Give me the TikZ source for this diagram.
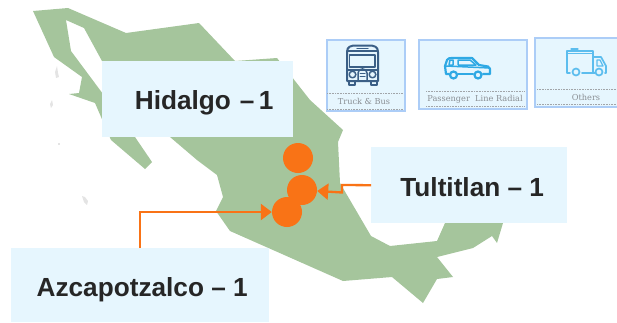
\documentclass[tikz,border=0pt]{standalone}
\usepackage{fontspec}
\setmainfont{Liberation Sans}
\newfontfamily\slabfont{DejaVu Serif}
\usetikzlibrary{arrows.meta}
\definecolor{mapgreen}{HTML}{A5C59C}
\definecolor{boxblue}{HTML}{E6F6FE}
\definecolor{dotorange}{HTML}{F97316}
\definecolor{labeltext}{HTML}{262626}
\definecolor{panelfill}{HTML}{E6F6FE}
\definecolor{panelline}{HTML}{ACCDF7}
\definecolor{busblue}{HTML}{3B5F86}
\definecolor{carblue}{HTML}{2FA9E4}
\definecolor{trackblue}{HTML}{5CBDEE}
\definecolor{captiongrey}{HTML}{8A8F94}
\definecolor{islandgrey}{HTML}{E4E4E4}
\tikzset{
  infobox/.style={fill=boxblue,inner sep=0pt,text=labeltext,font=\fontsize{26.2}{28}\selectfont\bfseries,anchor=north west},
  site/.style={circle,fill=dotorange,minimum size=30pt,inner sep=0pt},
  link/.style={draw=dotorange,line width=2.3pt,-{Triangle[length=11pt,width=16pt,fill=dotorange]}},
  panelbox/.style={fill=panelfill,draw=panelline,line width=1.6pt},
  caption/.style={font=\slabfont\fontsize{8.2}{9}\selectfont,text=captiongrey,inner sep=0pt},
  rule/.style={draw=captiongrey!80,line width=0.6pt,densely dotted},
  icon/.style={line width=2pt,line join=round,line cap=round},
}
\begin{document}
\begin{tikzpicture}[x=1pt,y=-1pt]
\useasboundingbox (0,0) rectangle (617,322);
% map
\fill[mapgreen] (33,11)--(68,8)--(126,33)--(199,23)--(235,61)--(277,58)--(310,100)--(343,130)--(338,142)--(340,183)--(371,236)--(390,246)--(437,241)--(445,223)--(503,223)--(497,243)--(492,236)--(473,248)--(437,257)--(453,277)--(437,279)--(423,303)--(392,277)--(343,281)--(230,231)--(216,211)--(223,197)--(217,175)--(197,160)--(170,137)--(102,61)--(84,28)--(66,20)--(71,51)--(135,137)--(152,162)--(145,169)--(111,140)--(95,103)--(69,94)--(79,93)--(82,77)--(54,57)--cycle;
% islands
\fill[islandgrey] (55,72)--(57,66)--(58,73)--(59,77)--(56,78)--cycle;
\fill[islandgrey] (50,104)--(52,100)--(53,105)--(51,108)--cycle;
\fill[islandgrey] (58,143)--(60,143)--(60,145)--(58,145)--cycle;
\fill[islandgrey] (82,196)--(85,197)--(88,201)--(87,205)--(84,202)--cycle;
% sites
\node[site] (hidalgo) at (298,158) {};
\node[site] (tultitlan) at (302,190) {};
\node[site] (azcapotzalco) at (287,212) {};
% label boxes
\node[infobox,minimum width=191pt,minimum height=76pt] (hbox) at (102,61) {\hspace*{13pt}\raisebox{-10pt}[0pt][0pt]{Hidalgo\hspace{9pt}–\,1}};
\node[infobox,minimum width=196pt,minimum height=76pt] (tbox) at (371,147) {\hspace*{6pt}\raisebox{-11pt}[0pt][0pt]{Tultitlan – 1}};
\node[infobox,minimum width=258pt,minimum height=74pt] (abox) at (11,248) {\hspace*{4pt}\raisebox{-11pt}[0pt][0pt]{Azcapotzalco – 1}};
% connectors
\coordinate (tbendA) at (342,185);
\coordinate (tbendB) at (342,192.5);
\draw[link] (tbox.west) -- (tbendA) -- (tbendB) -- (tultitlan);
\draw[link] (abox.north) |- (azcapotzalco.west);
% panels
\node[panelbox,minimum width=78pt,minimum height=71pt,inner sep=0pt,anchor=north west] (p1) at (326,39) {};
\node[panelbox,minimum width=108pt,minimum height=69pt,inner sep=0pt,anchor=north west] (p2) at (418,39) {};
\fill[panelfill] (617,38) -- (535,38) -- (535,107) -- (617,107) -- cycle;
\draw[panelline,line width=1.6pt] (617,38) -- (535,38) -- (535,107) -- (617,107);
% panel rules
\draw[rule] (327,93) -- (403,93);
\draw[rule] (327,109) -- (403,109);
\draw[rule] (426,91) -- (524,91);
\draw[rule] (426,106) -- (524,106);
\draw[rule] (537,89) -- (617,89);
\draw[rule] (537,104) -- (617,104);
% captions
\node[caption] (c1) at (364,101) {Truck \& Bus};
\node[caption] (c2) at (475,99) {Passenger\ \ Line Radial};
\node[caption] (c3) at (586,97) {Others};
% bus icon
\begin{scope}[icon]
\draw[busblue] (347,81) -- (347,52) .. controls (347,46.5) and (351,45.5) .. (356,45.5) -- (369,45.5) .. controls (374,45.5) and (378,46.5) .. (378,52) -- (378,81) -- cycle;
\draw[busblue,line width=1.4pt] (347,51) -- (378,51);
\draw[busblue,line width=1.6pt] (349.5,55) rectangle (375,67);
\draw[busblue,line width=1.2pt] (357,48.5) -- (368,48.5);
\draw[busblue,line width=1.4pt] (347,70) -- (378,70);
\draw[busblue,line width=1.5pt] (352.5,74.5) circle (3.3);
\draw[busblue,line width=1.5pt] (372.5,74.5) circle (3.3);
\draw[busblue,line width=1.5pt] (358,81) -- (358,73) .. controls (358,67.5) and (367,67.5) .. (367,73) -- (367,81);
\draw[busblue,line width=1pt] (360,73) -- (365,73) (360,76) -- (365,76);
\draw[busblue,line width=1.6pt] (349,81) -- (349,85) -- (355,85) -- (355,81);
\draw[busblue,line width=1.6pt] (371,81) -- (371,85) -- (377,85) -- (377,81);
\end{scope}
% car icon
\begin{scope}[icon,line width=2.2pt]
\draw[carblue] (449,74) -- (446,74) -- (445,66) -- (447,60) .. controls (448,58) and (450,58) .. (452,58) -- (472,58) -- (479,65) -- (488,66.5) -- (490,69) -- (490,74) -- (483,74);
\draw[carblue] (458,74) -- (473,74);
\draw[carblue] (453.5,75) circle (3.5);
\draw[carblue] (478,75) circle (3.5);
\draw[carblue,line width=1.5pt] (449,65) -- (450,60) -- (453,60) -- (453,65) -- cycle;
\draw[carblue,line width=1.5pt] (458,60) -- (470,60) -- (476,65) -- (458,65) -- cycle;
\draw[carblue,line width=1.5pt] (446,66) -- (490,68);
\end{scope}
% truck icon
\begin{scope}[icon,line width=1.7pt]
\draw[trackblue,line width=1.2pt] (571,49) -- (578,49);
\draw[trackblue] (567,51) -- (593,51) -- (593,73) -- (582,73);
\draw[trackblue] (567,51) -- (567,73) -- (570,73);
\draw[trackblue,line width=1.2pt] (567,53.5) -- (593,53.5);
\draw[trackblue] (593,57) -- (601,57) -- (606,66) -- (606,73) -- (605,73);
\draw[trackblue] (593,73) -- (595,73);
\draw[trackblue,line width=1.2pt] (597,60) -- (600,60) -- (603,66) -- (597,66) -- cycle;
\draw[trackblue] (576,72) circle (3.5);
\draw[trackblue] (599,72) circle (3.5);
\end{scope}
\end{tikzpicture}
\end{document}
